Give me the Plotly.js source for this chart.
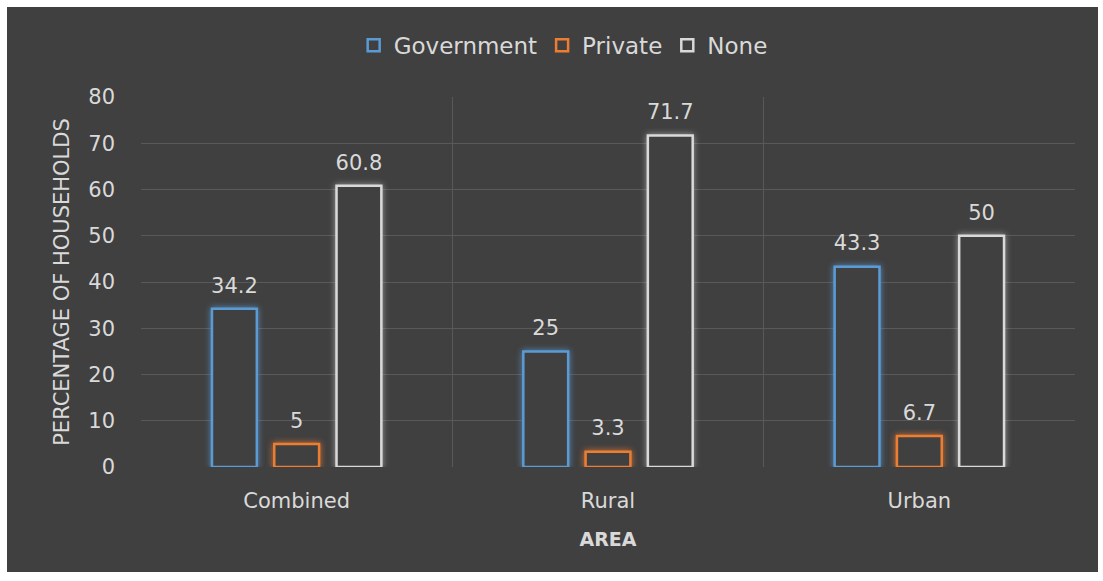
<!DOCTYPE html>
<html>
<head>
<meta charset="utf-8">
<script src="https://cdn.plot.ly/plotly-3.0.1.min.js"></script>
<style>
  html, body { margin: 0; padding: 0; background: #ffffff; }
  #chart { position: absolute; left: 7px; top: 7px; width: 1091px; height: 565px; }
  .barlayer .trace:nth-child(1) path { filter: drop-shadow(0 0 3px rgba(91,155,213,0.8)); }
  .barlayer .trace:nth-child(2) path { filter: drop-shadow(0 0 3px rgba(237,125,49,0.8)); }
  .barlayer .trace:nth-child(3) path { filter: drop-shadow(0 0 3px rgba(217,217,217,0.6)); }
</style>
</head>
<body>
<div id="chart"></div>
<script>
const categories = ["Combined", "Rural", "Urban"];
const government = [34.2, 25, 43.3];
const privateVals = [5, 3.3, 6.7];
const noneVals = [60.8, 71.7, 50];
const yTicks = [0, 10, 20, 30, 40, 50, 60, 70, 80];

const bg = "#404040";
const txt = "#d9d9d9";
const font = "DejaVu Sans, sans-serif";

function barSeries(name, vals, color, group) {
  return {
    type: "bar",
    name: name,
    x: categories,
    y: vals,
    offsetgroup: group,
    alignmentgroup: "a",
    marker: { color: bg, line: { color: color, width: 2.5 } },
    hoverinfo: "x+y+name"
  };
}

function labelSeries(vals, group) {
  return {
    type: "scatter",
    mode: "markers+text",
    x: categories,
    y: vals,
    offsetgroup: group,
    alignmentgroup: "a",
    text: vals.map(String),
    textposition: "top center",
    textfont: { color: txt, size: 21, family: font },
    marker: { size: 16, opacity: 0 },
    cliponaxis: false,
    showlegend: false,
    hoverinfo: "skip"
  };
}

const data = [
  barSeries("Government", government, "#5b9bd5", "g"),
  barSeries("Private", privateVals, "#ed7d31", "p"),
  barSeries("None", noneVals, "#d9d9d9", "n"),
  labelSeries(government, "g"),
  labelSeries(privateVals, "p"),
  labelSeries(noneVals, "n")
];

const layout = {
  width: 1091,
  height: 565,
  paper_bgcolor: bg,
  plot_bgcolor: bg,
  font: { family: font, color: txt, size: 21 },
  margin: { l: 134, r: 23, t: 90, b: 105 },
  barmode: "group",
  bargap: 0.40,
  bargroupgap: 0.28,
  scattermode: "group",
  scattergap: 0.40,
  showlegend: true,
  legend: {
    orientation: "h",
    x: 0.452, xanchor: "center",
    y: 1.14, yanchor: "middle",
    font: { size: 23, color: txt, family: font },
    itemwidth: 30,
    bgcolor: "rgba(0,0,0,0)"
  },
  xaxis: {
    type: "category",
    tickson: "boundaries",
    showgrid: true,
    gridcolor: "#595959",
    gridwidth: 1,
    showline: false,
    zeroline: false,
    ticks: "",
    ticklabelstandoff: 19,
    tickfont: { size: 21, color: txt, family: font },
    title: { text: "AREA", font: { size: 19, color: txt, family: font, weight: "bold" }, standoff: 20 }
  },
  yaxis: {
    range: [0, 80],
    tickvals: yTicks,
    ticktext: yTicks.map(String),
    showgrid: true,
    gridcolor: "#595959",
    gridwidth: 1,
    zeroline: false,
    showline: false,
    ticks: "",
    ticklabelstandoff: 25,
    tickfont: { size: 21, color: txt, family: font },
    title: { text: "PERCENTAGE OF HOUSEHOLDS", font: { size: 21, color: txt, family: font }, standoff: 12 }
  }
};

Plotly.newPlot("chart", data, layout, { displayModeBar: false, responsive: false });
</script>
</body>
</html>
